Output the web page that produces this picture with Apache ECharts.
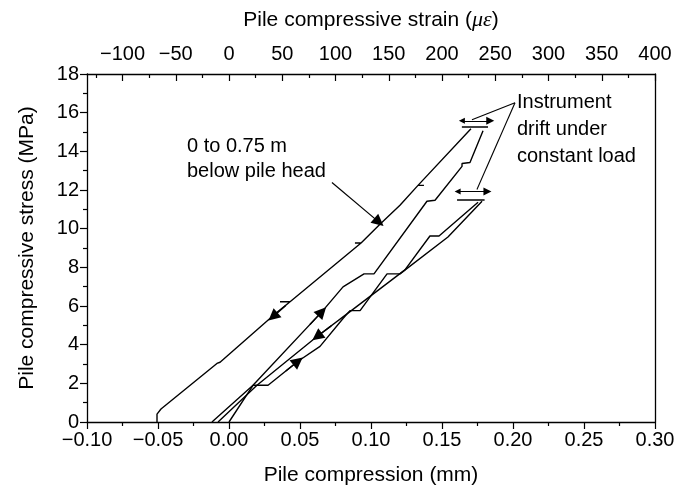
<!DOCTYPE html>
<html>
<head>
<meta charset="utf-8">
<script src="https://cdn.jsdelivr.net/npm/echarts@6/dist/echarts.min.js"></script>
<style>
  html, body { margin: 0; padding: 0; background: #fff; }
  #main { width: 695px; height: 491px; }
</style>
</head>
<body>
<div id="main"></div>
<script>
  // compression (mm), stress (MPa)
  var loadCycle1 = [[0.000, 0.00], [0.0169, 1.90], [0.0275, 1.90], [0.0486, 3.14], [0.0641, 3.91], [0.0803, 5.35],
    [0.0852, 5.76], [0.0923, 5.76], [0.1113, 7.66], [0.1204, 7.66], [0.1542, 9.57], [0.1782, 11.42]];
  var unloadCycle1 = [[0.1754, 11.37], [0.1479, 9.62], [0.1415, 9.62], [0.1239, 7.87], [0.0852, 5.71],
    [0.0620, 4.42], [0.0197, 1.90], [-0.0077, 0.00]];
  var loadCycle2 = [[-0.0120, 0.00], [0.0169, 1.90], [0.0655, 5.71], [0.0803, 6.99], [0.0951, 7.66], [0.1021, 7.66],
    [0.1394, 11.42], [0.1451, 11.47], [0.1641, 13.22], [0.1641, 13.37], [0.1697, 13.42], [0.1789, 15.07]];
  var unloadCycle2 = [[0.1704, 15.17], [0.1331, 12.24], [0.1373, 12.24], [0.1331, 12.24], [0.1204, 11.21],
    [0.1063, 10.23], [0.0930, 9.26], [0.0887, 9.26], [0.0930, 9.26], [0.0430, 6.22], [0.0359, 6.22],
    [0.0430, 6.22], [0.0310, 5.50], [-0.0063, 3.09], [-0.0085, 3.03], [-0.0479, 0.67], [-0.0507, 0.41],
    [-0.0507, 0.00]];

  // drift under constant load
  var driftBars = [[[0.164, 15.26], [0.1824, 15.26]], [[0.1606, 11.48], [0.180, 11.48]]];
  var driftArrows = [[[0.164, 15.58], [0.184, 15.58]], [[0.161, 11.92], [0.182, 11.92]]];

  // load direction arrows (tail, tip)
  var directionArrows = [
    [[0.040, 2.635], [0.0486, 3.14]],
    [[0.072, 4.97], [0.0620, 4.42]],
    [[0.057, 5.04], [0.0655, 5.71]],
    [[0.040, 6.03], [0.031, 5.45]]
  ];

  var depthLeader = [[0.0725, 12.39], [0.1056, 10.34]];
  var driftLeaders = [[[0.2014, 16.51], [0.1711, 15.63]], [[0.2014, 16.51], [0.1746, 12.03]]];

  var depthText = { at: [-0.0296, 14.25], lines: ['0 to 0.75 m', 'below pile head'] };
  var driftText = { at: [0.2028, 16.51], lines: ['Instrument', 'drift under', 'constant load'] };

  var strainMajor = [-100, -50, 0, 50, 100, 150, 200, 250, 300, 350, 400];
  var strainMinor = [-125, -75, -25, 25, 75, 125, 175, 225, 275, 325, 375];
  var strainPerMm = 400 / 0.3;

  var font = 'Liberation Sans, Arial, sans-serif';
  var black = '#000';

  function minus(v) {
    return v < 0 ? '\u2212' + (-v) : '' + v;
  }

  var chart = echarts.init(document.getElementById('main'));

  function curve(name, data) {
    return {
      name: name,
      type: 'line',
      data: data,
      showSymbol: false,
      symbol: 'none',
      lineStyle: { color: black, width: 1.4 },
      silent: true,
      z: 3
    };
  }

  function segs(list) {
    return list.map(function (s) { return { coords: s }; });
  }

  var option = {
    animation: false,
    backgroundColor: '#fff',
    grid: { left: 87, right: 40, top: 74, bottom: 67 },
    xAxis: [
      {
        type: 'value',
        position: 'bottom',
        min: -0.1,
        max: 0.3,
        interval: 0.05,
        name: 'Pile compression (mm)',
        nameLocation: 'middle',
        nameGap: 43,
        nameTextStyle: { fontFamily: font, fontSize: 21, color: black },
        axisLine: { onZero: false, lineStyle: { color: black, width: 1.3 } },
        axisTick: { length: 7, lineStyle: { color: black, width: 1.2 } },
        minorTick: { show: true, splitNumber: 2, length: 4, lineStyle: { color: black, width: 1.2 } },
        axisLabel: {
          margin: 8, fontFamily: font, fontSize: 20, color: black,
          formatter: function (v) { return (v < -1e-9 ? '\u2212' : '') + Math.abs(v).toFixed(2); }
        },
        splitLine: { show: false }
      },
      {
        type: 'value',
        position: 'top',
        min: -400 / 3,
        max: 400,
        name: 'Pile compressive strain ({g|\u03bc\u03b5})',
        nameLocation: 'middle',
        nameGap: 43,
        nameTextStyle: {
          fontFamily: font, fontSize: 21, color: black,
          rich: { g: { fontFamily: 'Liberation Serif, serif', fontStyle: 'italic', fontSize: 22, color: black } }
        },
        axisLine: { onZero: false, lineStyle: { color: black, width: 1.3 } },
        axisTick: { inside: true, length: 7, customValues: strainMajor, lineStyle: { color: black, width: 1.2 } },
        axisLabel: {
          margin: 10, fontFamily: font, fontSize: 20, color: black,
          customValues: strainMajor, formatter: minus
        },
        splitLine: { show: false }
      },
      {
        type: 'value',
        position: 'top',
        min: -400 / 3,
        max: 400,
        axisLine: { show: false, onZero: false },
        axisTick: { inside: true, length: 4, customValues: strainMinor, lineStyle: { color: black, width: 1.2 } },
        axisLabel: { show: false },
        splitLine: { show: false }
      }
    ],
    yAxis: [
      {
        type: 'value',
        position: 'left',
        min: 0,
        max: 18,
        interval: 2,
        name: 'Pile compressive stress (MPa)',
        nameLocation: 'middle',
        nameGap: 49,
        nameTextStyle: { fontFamily: font, fontSize: 21, color: black },
        axisLine: { show: true, onZero: false, lineStyle: { color: black, width: 1.3 } },
        axisTick: { show: true, length: 7, lineStyle: { color: black, width: 1.2 } },
        minorTick: { show: true, splitNumber: 2, length: 4, lineStyle: { color: black, width: 1.2 } },
        axisLabel: { margin: 8, fontFamily: font, fontSize: 20, color: black },
        splitLine: { show: false }
      },
      {
        type: 'value',
        position: 'right',
        min: 0,
        max: 18,
        axisLine: { show: true, onZero: false, lineStyle: { color: black, width: 1.3 } },
        axisTick: { show: false },
        axisLabel: { show: false },
        splitLine: { show: false }
      }
    ],
    series: [
      curve('load 1', loadCycle1),
      curve('unload 1', unloadCycle1),
      curve('load 2', loadCycle2),
      curve('unload 2', unloadCycle2),
      {
        type: 'lines', coordinateSystem: 'cartesian2d', silent: true, z: 3,
        symbol: 'none',
        lineStyle: { color: black, width: 1.5, opacity: 1, curveness: 0 },
        data: segs(driftBars)
      },
      {
        type: 'lines', coordinateSystem: 'cartesian2d', silent: true, z: 4,
        symbol: ['triangle', 'triangle'], symbolSize: [6, 8],
        lineStyle: { color: black, width: 1.2, opacity: 1, curveness: 0 },
        itemStyle: { color: black },
        data: segs(driftArrows)
      },
      {
        type: 'lines', coordinateSystem: 'cartesian2d', silent: true, z: 4,
        symbol: ['none', 'triangle'], symbolSize: [8, 12],
        lineStyle: { color: black, width: 1.4, opacity: 1, curveness: 0 },
        itemStyle: { color: black },
        data: segs(directionArrows)
      },
      {
        type: 'lines', coordinateSystem: 'cartesian2d', silent: true, z: 4,
        symbol: ['none', 'triangle'], symbolSize: [7, 12],
        lineStyle: { color: black, width: 1.2, opacity: 1, curveness: 0 },
        itemStyle: { color: black },
        data: segs([depthLeader])
      },
      {
        type: 'lines', coordinateSystem: 'cartesian2d', silent: true, z: 4,
        symbol: 'none',
        lineStyle: { color: black, width: 1.1, opacity: 1, curveness: 0 },
        data: segs(driftLeaders)
      }
    ]
  };

  chart.setOption(option);

  function note(t, lineHeight) {
    var p = chart.convertToPixel({ xAxisIndex: 0, yAxisIndex: 0 }, t.at);
    return {
      type: 'text',
      silent: true,
      z: 10,
      style: {
        x: p[0],
        y: p[1] - lineHeight / 2,
        text: t.lines.join('\n'),
        font: '20px ' + font,
        lineHeight: lineHeight,
        fill: black,
        align: 'left',
        verticalAlign: 'top'
      }
    };
  }

  chart.setOption({ graphic: [note(depthText, 25), note(driftText, 27)] });
</script>
</body>
</html>
